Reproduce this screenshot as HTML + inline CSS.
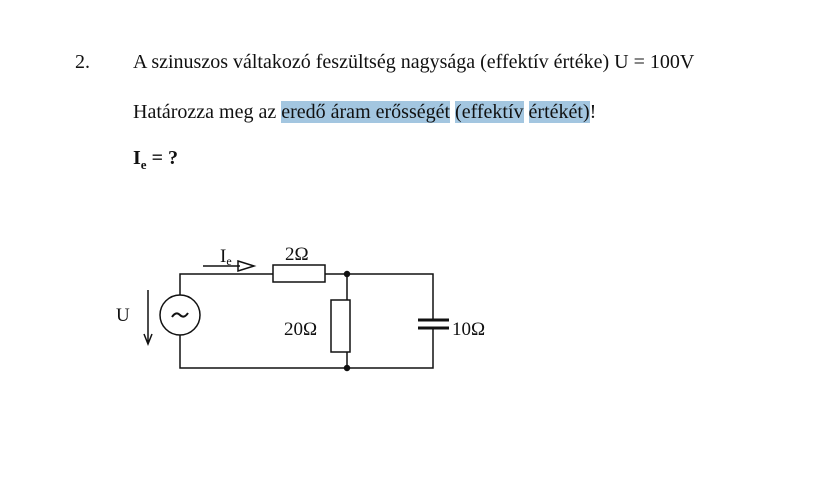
<!DOCTYPE html>
<html><head><meta charset="utf-8"><style>
body{margin:0;background:#fff;width:818px;height:482px;overflow:hidden;position:relative;font-family:"Liberation Serif",serif;color:#111}
.t{position:absolute;font-size:20px;white-space:nowrap;line-height:22px}
.h{background:#a3c6e0}
</style></head><body>
<div class="t" style="left:75px;top:51px">2.</div>
<div class="t" style="left:133px;top:51px">A szinuszos váltakozó feszültség nagysága (effektív értéke) U = 100V</div>
<div class="t" style="left:133px;top:101px">Határozza meg az <span class="h">eredő áram erősségét</span> <span class="h">(effektív</span> <span class="h">értékét)</span>!</div>
<div class="t" style="left:133px;top:147px;font-weight:bold">I<sub style="font-size:13px">e</sub> = ?</div>
<svg width="818" height="482" style="position:absolute;left:0;top:0" font-family="Liberation Serif, serif" font-size="19" fill="none" stroke="#111" stroke-width="1.5">
<path d="M180 295V274H273M325 274H433V320M433 328V368H180V335"/>
<rect x="273" y="265" width="52" height="17"/>
<path d="M347 274V300M347 352V368"/>
<rect x="331" y="300" width="19" height="52"/>
<path d="M418 320H449M418 328H449" stroke-width="3"/>
<circle cx="180" cy="315" r="20"/>
<path d="M172 317q4-6 8-2t8-2" stroke-width="2"/>
<path d="M148 290V343M144 334L148 344L152 334"/>
<path d="M203 266H240"/>
<path d="M238 261L254 266L238 271Z"/>
<circle cx="347" cy="274" r="2.5" fill="#111"/>
<circle cx="347" cy="368" r="2.5" fill="#111"/>
<g fill="#111" stroke="none">
<text x="116" y="321">U</text>
<text x="220" y="262">I<tspan font-size="12" dy="3">e</tspan></text>
<text x="285" y="260">2Ω</text>
<text x="284" y="335">20Ω</text>
<text x="452" y="335">10Ω</text>
</g>
</svg>
</body></html>
